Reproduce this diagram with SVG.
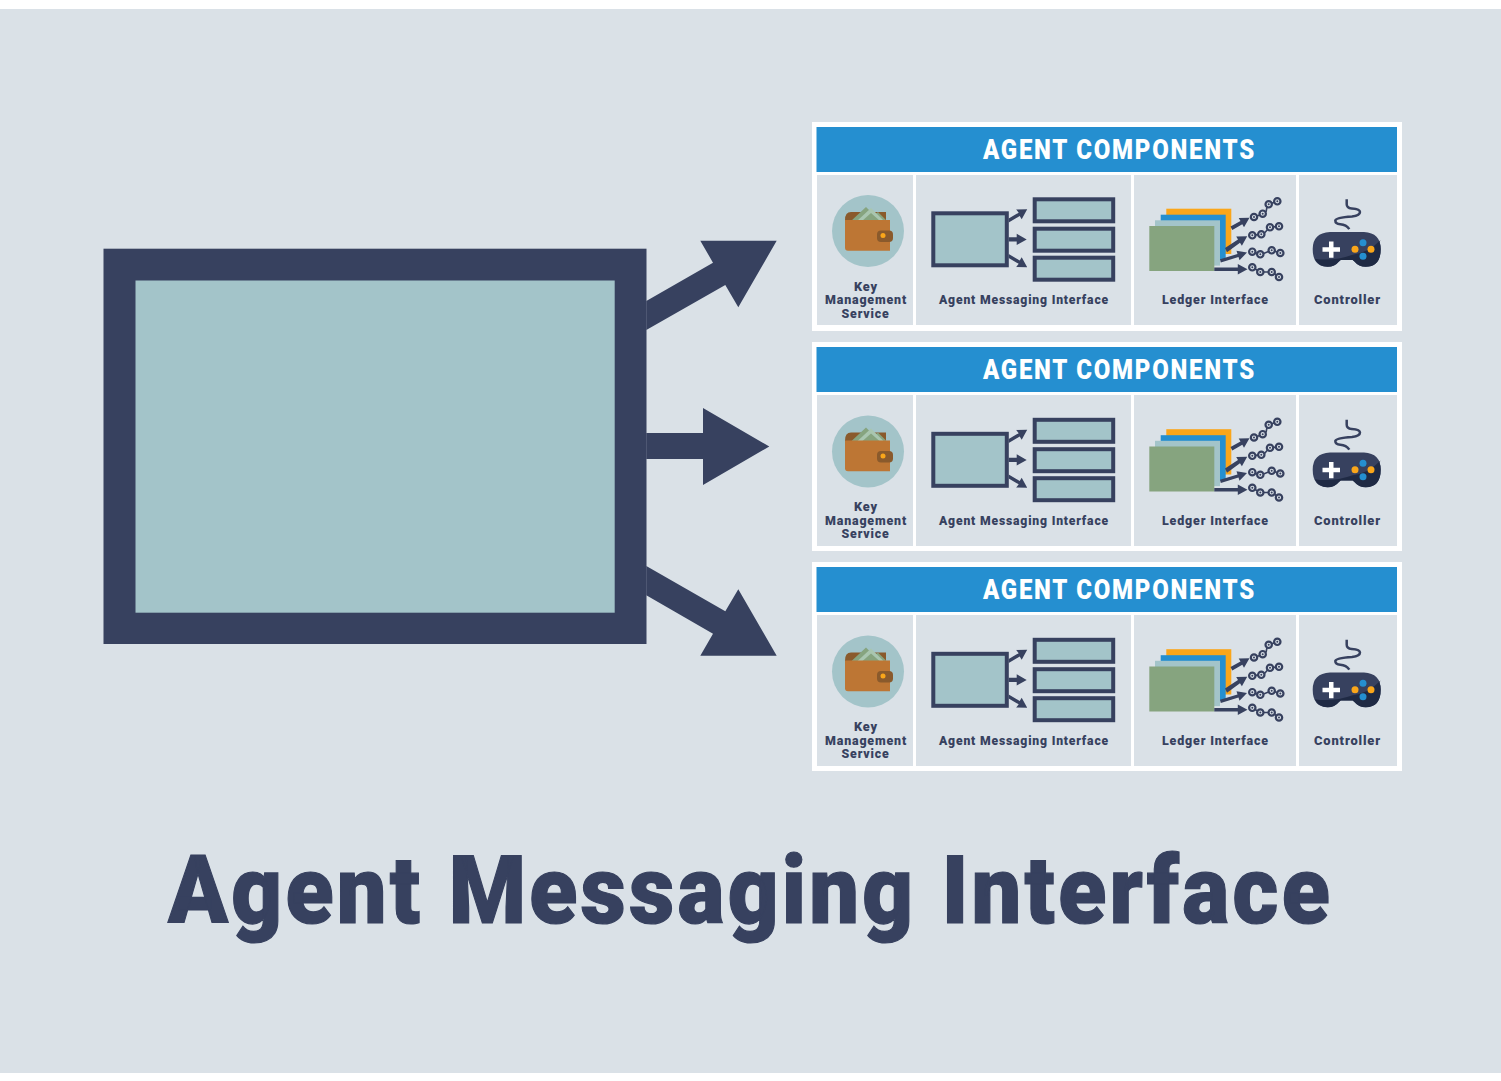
<svg xmlns="http://www.w3.org/2000/svg" xmlns:xlink="http://www.w3.org/1999/xlink" width="1501" height="1081" viewBox="0 0 1501 1081">
<style>
text{font-family:"Roboto","Liberation Sans",sans-serif;font-weight:900}
.d{fill:#37415f}
.lbl{fill:#37415f;font-size:13.5px;letter-spacing:.9px}
.hd{fill:#fff;font-size:27.500px;letter-spacing:2px}
.cell{fill:#dae1e7}
.tl{fill:#a3c4c9}
.bx{fill:#a3c4c9;stroke:#37415f;stroke-width:4}
.rg{fill:none;stroke:#37415f;stroke-width:2.200}
.ln{stroke:#37415f;stroke-width:1.600;fill:none}
</style>
<defs>
<g id="wallet">
<circle cx="868" cy="231" r="36" class="tl"/>
<path d="M845 220q0-8 6-8h35v10h-41z" fill="#8a5a2c"/>
<path d="M851 221l15-14 8 8 4-3 9 9z" fill="#86a47f"/>
<path d="M857 221l14-13 13 13z" fill="#a9c6b0"/>
<path d="M862 221l9-8 9 8z" fill="#86a47f"/>
<path d="M845 220h45v30.700h-42q-3 0-3-3z" fill="#bd7634"/>
<rect x="877" y="230.500" width="16" height="11.500" rx="4" fill="#8a5a2c"/>
<circle cx="883" cy="235.500" r="2.500" fill="#faa61a"/>
</g>
<g id="ami">
<rect class="bx" x="933.300" y="213.300" width="73.500" height="52"/>
<rect class="bx" x="1034.700" y="199.300" width="78.500" height="22"/>
<rect class="bx" x="1034.700" y="228.700" width="78.500" height="22"/>
<rect class="bx" x="1034.700" y="257.700" width="78.500" height="22"/>
<path class="d" d="M1008.700 218.500l10-5.800-2.500-3.300 11-.2-5.500 10-2-3.200-11 6.500zM1008.700 237.300h8v-3.600l10 5.700-10 5.700v-3.700h-8zM1008.700 254l11 6.500 2-3.200 5.500 10-11-.2 2.500-3.300-10-5.800z"/>
</g>
<g id="chain">
<circle class="rg" cx="0" cy="0" r="3.200"/><circle class="d" cx="0" cy="0" r="1"/>
</g>
<g id="ledger">
<rect x="1166.300" y="208.700" width="65" height="45.300" fill="#faa61a"/>
<rect x="1160.700" y="214.700" width="65" height="45.300" fill="#258fd0"/>
<rect x="1155" y="220.300" width="65" height="45.300" fill="#a3c4c9"/>
<rect x="1149.300" y="226" width="65" height="45" fill="#86a47f"/>
<path class="d" d="M1214.300 267.500h23.500v-3.500l9.700 5.300-9.700 5.300v-3.600h-23.500zM1220 259.300l17.500-5.300-1-3.300 10.500 1.800-7.500 7.800-1-3.200-17.700 5.300zM1225 248l13-8.500-1.800-3 11-.2-5.300 9.500-1.900-3-13 9.500zM1230.500 226.500l10-5.500-1.800-3 10.800-.2-5.500 9.500-1.700-3-10 5.800z"/>
<path class="ln" d="M1257 216l2.700-1M1266 212l1-5M1271.700 203.300l2.700-1M1255.500 234.900l2.700-.3M1264.500 233l3.500-4M1273 227l3-.4M1255.500 252.700l1.800.6M1263.500 253.500l5-2M1274.800 251.300l2.400.7M1255 269l2.500 1.400M1263.500 272h5M1274.500 273.500l2 1.800"/>
<use href="#chain" x="1254" y="217"/><use href="#chain" x="1262.700" y="213.700"/><use href="#chain" x="1268.700" y="204.300"/><use href="#chain" x="1277.300" y="201.300"/>
<use href="#chain" x="1252.300" y="235.300"/><use href="#chain" x="1261.300" y="234.300"/><use href="#chain" x="1270" y="227.300"/><use href="#chain" x="1279" y="226.300"/>
<use href="#chain" x="1252.300" y="251.700"/><use href="#chain" x="1260.300" y="254.300"/><use href="#chain" x="1271.700" y="250.300"/><use href="#chain" x="1280.300" y="253"/>
<use href="#chain" x="1252.300" y="267.300"/><use href="#chain" x="1260.300" y="272"/><use href="#chain" x="1271.700" y="272"/><use href="#chain" x="1279" y="277"/>
</g>
<g id="pad">
<path d="M1346.700 199.300v5q0 3.700 5 4.200 8.300.7 8.300 3.500 0 3.500-8 4.500-16 1-16.700 4 0 3.500 5 3.700 6 .3 9 5" fill="none" stroke="#37415f" stroke-width="2.500"/>
<path d="M1330 232h34q16.700 1 16.700 17 0 17.700-15 17.700-7 0-11-5l-2-1.700h-12l-2 1.700q-4 5-11 5-15 0-15-17.700 0-16 17.300-17z" fill="#37415f"/>
<path d="M1379.500 242q1.200 3.500 1.200 7 0 17.700-15 17.700-7 0-11-5l-2-1.700h-12l-2 1.700q-4 5-11 5-9 0-13-8 18 3 38-4 16-2 27.800-14.700z" fill="#1f2a44"/>
<path d="M1329 241.500h4.500v5.800h6.500v4.500h-6.500v6h-4.500v-6h-6.500v-4.500h6.500z" fill="#fff"/>
<circle cx="1363" cy="242.700" r="3.500" fill="#258fd0"/><circle cx="1363" cy="256.300" r="3.500" fill="#258fd0"/>
<circle cx="1355" cy="249.300" r="3.500" fill="#faa61a"/><circle cx="1371" cy="249.300" r="3.500" fill="#faa61a"/>
</g>
</defs>
<rect width="1501" height="1081" fill="#fff"/>
<rect y="9" width="1501" height="1064" fill="#dae1e7"/>
<g id="agent-box">
<rect x="103.500" y="248.700" width="543" height="395.300" fill="#37415f"/>
<rect x="135.500" y="280.500" width="479.200" height="332.200" fill="#a3c4c9"/>
</g>
<g id="connectors" class="d">
<polygon points="646.300,301 713,262.700 700.300,240.700 776.700,240.700 738.300,307.300 725.300,285 646.300,330"/>
<polygon points="646.300,433 703,433 703,408 769.300,446.500 703,485 703,459 646.300,459"/>
<polygon points="646.300,566 725.300,611.300 738.300,589.300 776.700,655.700 700.300,655.700 713,633.700 646.300,595.300"/>
</g>
<g id="panel-1">
<rect x="812" y="122" width="590" height="209" fill="#fff"/>
<rect x="816.500" y="127" width="580.500" height="45" fill="#258fd0"/>
<text class="hd" x="983" y="158.500" textLength="273" lengthAdjust="spacingAndGlyphs">AGENT COMPONENTS</text>
<g id="kms-1"><rect class="cell" x="817" y="175" width="96" height="150"/><use href="#wallet"/>
<text class="lbl" x="854" y="290.700" textLength="24" lengthAdjust="spacingAndGlyphs">Key</text><text class="lbl" x="825" y="304.300" textLength="82" lengthAdjust="spacingAndGlyphs">Management</text><text class="lbl" x="841.500" y="317.700" textLength="48" lengthAdjust="spacingAndGlyphs">Service</text></g>
<g id="ami-1"><rect class="cell" x="916" y="175" width="215" height="150"/><use href="#ami"/>
<text class="lbl" x="939" y="304.300" textLength="170" lengthAdjust="spacingAndGlyphs">Agent Messaging Interface</text></g>
<g id="ledger-1"><rect class="cell" x="1134" y="175" width="162" height="150"/><use href="#ledger"/>
<text class="lbl" x="1162" y="304.300" textLength="107" lengthAdjust="spacingAndGlyphs">Ledger Interface</text></g>
<g id="controller-1"><rect class="cell" x="1299" y="175" width="98" height="150"/><use href="#pad"/>
<text class="lbl" x="1314" y="304.300" textLength="67" lengthAdjust="spacingAndGlyphs">Controller</text></g>
</g>
<g id="panel-2">
<rect x="812" y="342" width="590" height="209" fill="#fff"/>
<rect x="816.500" y="347" width="580.500" height="45" fill="#258fd0"/>
<text class="hd" x="983" y="378.500" textLength="273" lengthAdjust="spacingAndGlyphs">AGENT COMPONENTS</text>
<g id="kms-2"><rect class="cell" x="817" y="395" width="96" height="151"/><use href="#wallet" y="220.500"/>
<text class="lbl" x="854" y="511" textLength="24" lengthAdjust="spacingAndGlyphs">Key</text><text class="lbl" x="825" y="524.600" textLength="82" lengthAdjust="spacingAndGlyphs">Management</text><text class="lbl" x="841.500" y="538" textLength="48" lengthAdjust="spacingAndGlyphs">Service</text></g>
<g id="ami-2"><rect class="cell" x="916" y="395" width="215" height="151"/><use href="#ami" y="220.500"/>
<text class="lbl" x="939" y="524.600" textLength="170" lengthAdjust="spacingAndGlyphs">Agent Messaging Interface</text></g>
<g id="ledger-2"><rect class="cell" x="1134" y="395" width="162" height="151"/><use href="#ledger" y="220.500"/>
<text class="lbl" x="1162" y="524.600" textLength="107" lengthAdjust="spacingAndGlyphs">Ledger Interface</text></g>
<g id="controller-2"><rect class="cell" x="1299" y="395" width="98" height="151"/><use href="#pad" y="220.500"/>
<text class="lbl" x="1314" y="524.600" textLength="67" lengthAdjust="spacingAndGlyphs">Controller</text></g>
</g>
<g id="panel-3">
<rect x="812" y="562" width="590" height="209" fill="#fff"/>
<rect x="816.500" y="567" width="580.500" height="45" fill="#258fd0"/>
<text class="hd" x="983" y="598.500" textLength="273" lengthAdjust="spacingAndGlyphs">AGENT COMPONENTS</text>
<g id="kms-3"><rect class="cell" x="817" y="615" width="96" height="151"/><use href="#wallet" y="440.500"/>
<text class="lbl" x="854" y="731" textLength="24" lengthAdjust="spacingAndGlyphs">Key</text><text class="lbl" x="825" y="744.600" textLength="82" lengthAdjust="spacingAndGlyphs">Management</text><text class="lbl" x="841.500" y="758" textLength="48" lengthAdjust="spacingAndGlyphs">Service</text></g>
<g id="ami-3"><rect class="cell" x="916" y="615" width="215" height="151"/><use href="#ami" y="440.500"/>
<text class="lbl" x="939" y="744.600" textLength="170" lengthAdjust="spacingAndGlyphs">Agent Messaging Interface</text></g>
<g id="ledger-3"><rect class="cell" x="1134" y="615" width="162" height="151"/><use href="#ledger" y="440.500"/>
<text class="lbl" x="1162" y="744.600" textLength="107" lengthAdjust="spacingAndGlyphs">Ledger Interface</text></g>
<g id="controller-3"><rect class="cell" x="1299" y="615" width="98" height="151"/><use href="#pad" y="440.500"/>
<text class="lbl" x="1314" y="744.600" textLength="67" lengthAdjust="spacingAndGlyphs">Controller</text></g>
</g>
<text id="title" class="d" x="168" y="923" font-size="95" letter-spacing="3.500" textLength="1165" lengthAdjust="spacingAndGlyphs" stroke="#37415f" stroke-width="1.200">Agent Messaging Interface</text>
</svg>
